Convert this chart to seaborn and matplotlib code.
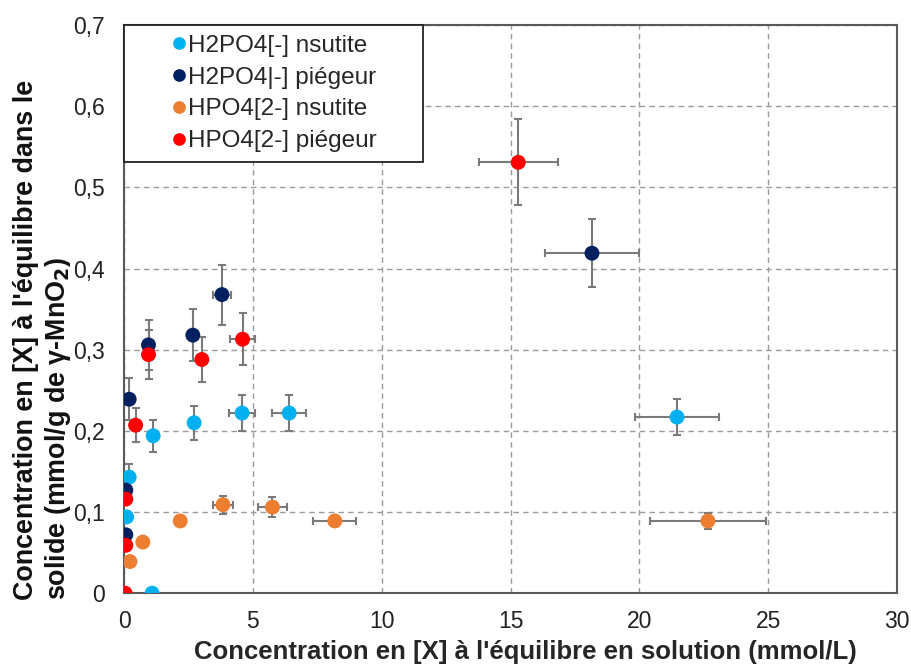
import numpy as np
import pandas as pd
import seaborn as sns
from matplotlib import pyplot as plt
from matplotlib.ticker import FuncFormatter

# data
h2po4_nsu_x = [1.09, 0.1, 0.2, 1.13, 2.72, 4.58, 6.41, 21.46]
h2po4_nsu_y = [0.0, 0.094, 0.143, 0.194, 0.21, 0.222, 0.222, 0.217]
h2po4_nsu_xerr = [0, 0, 0, 0, 0.05, 0.49, 0.66, 1.63]
h2po4_nsu_yerr = [0, 0, 0.016, 0.02, 0.021, 0.022, 0.022, 0.022]

h2po4_pie_x = [0.07, 0.07, 0.2, 0.95, 2.67, 3.8, 18.16]
h2po4_pie_y = [0.072, 0.127, 0.239, 0.306, 0.318, 0.368, 0.419]
h2po4_pie_xerr = [0, 0, 0, 0.05, 0.05, 0.35, 1.82]
h2po4_pie_yerr = [0, 0, 0.026, 0.031, 0.032, 0.037, 0.042]

hpo4_nsu_x = [0.23, 0.73, 2.18, 3.84, 5.76, 8.18, 22.66]
hpo4_nsu_y = [0.039, 0.063, 0.089, 0.109, 0.106, 0.089, 0.089]
hpo4_nsu_xerr = [0, 0, 0, 0.39, 0.57, 0.84, 2.25]
hpo4_nsu_yerr = [0, 0, 0.005, 0.011, 0.012, 0.006, 0.01]

hpo4_pie_x = [0.04, 0.07, 0.07, 0.45, 0.95, 3.02, 4.6, 15.3]
hpo4_pie_y = [0.0, 0.059, 0.116, 0.207, 0.294, 0.288, 0.313, 0.531]
hpo4_pie_xerr = [0, 0, 0, 0, 0.05, 0.05, 0.47, 1.53]
hpo4_pie_yerr = [0, 0, 0, 0.021, 0.03, 0.028, 0.032, 0.053]

series = ["H2PO4[-] nsutite", "H2PO4|-] piégeur", "HPO4[2-] nsutite", "HPO4[2-] piégeur"]
colors = ["#00B0F0", "#002060", "#ED7D31", "#FF0000"]

frames = []
for name, xs, ys, xe, ye in [
    (series[0], h2po4_nsu_x, h2po4_nsu_y, h2po4_nsu_xerr, h2po4_nsu_yerr),
    (series[1], h2po4_pie_x, h2po4_pie_y, h2po4_pie_xerr, h2po4_pie_yerr),
    (series[2], hpo4_nsu_x, hpo4_nsu_y, hpo4_nsu_xerr, hpo4_nsu_yerr),
    (series[3], hpo4_pie_x, hpo4_pie_y, hpo4_pie_xerr, hpo4_pie_yerr),
]:
    frames.append(pd.DataFrame({"x": xs, "y": ys, "xerr": xe, "yerr": ye, "serie": name}))
df = pd.concat(frames, ignore_index=True)

sns.set_style("white")
plt.rcParams["font.family"] = ["Liberation Sans", "DejaVu Sans"]

fig = plt.figure(figsize=(9.12, 6.68), dpi=100)
ax = fig.add_axes([0.136, 0.112, 0.8476, 0.8503])

# error bars first, under the markers
ax.errorbar(df["x"], df["y"], xerr=df["xerr"], yerr=df["yerr"], fmt="none",
            ecolor="#7a7a7a", elinewidth=1.5, capsize=3, capthick=1.5, zorder=2)

sns.scatterplot(data=df, x="x", y="y", hue="serie", hue_order=series,
                palette=colors, s=115, edgecolor="none", ax=ax, zorder=3)

ax.set_xlim(0, 30)
ax.set_ylim(0, 0.7)
ax.set_xticks(np.arange(0, 31, 5))
ax.set_yticks(np.arange(0, 0.71, 0.1))
ax.yaxis.set_major_formatter(FuncFormatter(lambda v, p: "0" if abs(v) < 1e-9 else f"{v:.1f}".replace(".", ",")))
ax.tick_params(axis="both", labelsize=16.5, colors="#222222", length=0)
ax.tick_params(axis="y", pad=14)
ax.tick_params(axis="x", pad=12)
ax.grid(True, linestyle=(0, (4, 3)), color="#9a9a9a", linewidth=1)
ax.set_axisbelow(True)
for s in ax.spines.values():
    s.set_color("#5a5a5a")
    s.set_linewidth(1.5)

ax.set_xlabel("Concentration en [X] à l'équilibre en solution (mmol/L)",
              fontsize=18.5, fontweight="bold", labelpad=6)
ax.xaxis.set_label_coords(0.519, -0.082)
ax.set_ylabel("")
fig.text(0.047, 0.102,
         "Concentration en [X] à l'équilibre dans le\nsolide (mmol/g de γ-MnO$_\\mathbf{2}$)",
         rotation=90, ha="center", va="bottom", multialignment="left",
         fontsize=19.4, fontweight="bold", color="#111111")

leg = ax.legend(loc="upper left", bbox_to_anchor=(0, 0.755, 0.387, 0.245), mode="expand",
                fontsize=17.5, frameon=True, fancybox=False,
                handletextpad=-1.45, borderpad=0.4, labelspacing=0.4,
                borderaxespad=0, markerscale=0.85, handlelength=3.7)
leg.get_frame().set_edgecolor("#222222")
leg.get_frame().set_linewidth(1.3)
leg.get_frame().set_alpha(1)

fig.savefig("out.png", dpi=100)
